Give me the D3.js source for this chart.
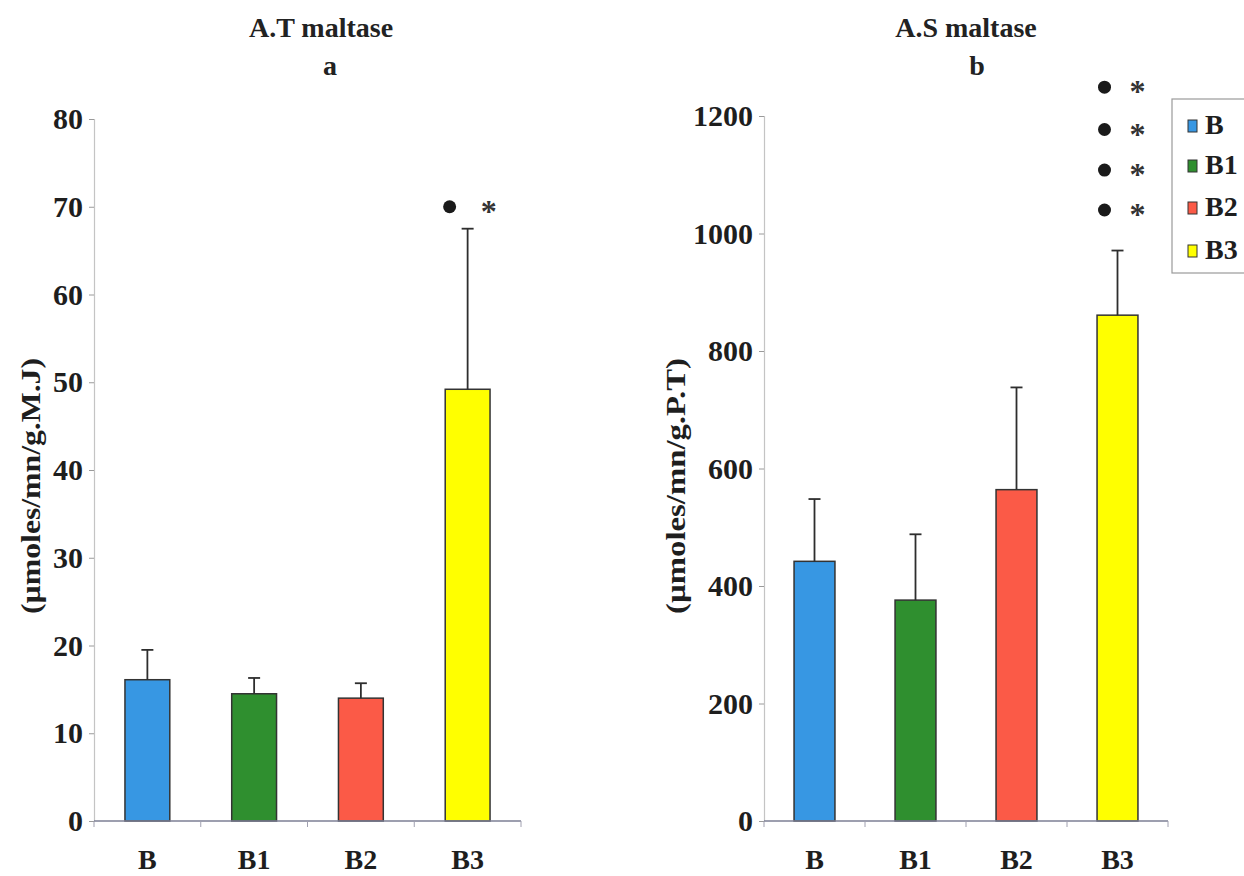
<!DOCTYPE html>
<html>
<head>
<meta charset="utf-8">
<script src="https://cdn.jsdelivr.net/npm/d3@7"></script>
<style>
  body { margin: 0; background: #fff; }
  svg { display: block; font-family: 'Liberation Serif', 'Times New Roman', serif; font-weight: bold; }
</style>
</head>
<body>
<svg id="chart" width="1244" height="876"></svg>
<script>
// values
const groups = ['B', 'B1', 'B2', 'B3'];
const groupColors = ['#3797e3', '#2f8f2f', '#fb5a47', '#ffff00'];

const atMeans = [16.1, 14.5, 14.0, 49.2];
const atErrors = [3.4, 1.8, 1.7, 18.3];
const atTicks = [0, 10, 20, 30, 40, 50, 60, 70, 80];
const atMarks = [70];

const asMeans = [442, 376, 564, 861];
const asErrors = [106, 112, 174, 110];
const asTicks = [0, 200, 400, 600, 800, 1000, 1200];
const asMarks = [1249, 1177, 1108, 1040];

const svg = d3.select('#chart');

function panel(opt) {
  const x = d3.scaleBand().domain(groups).range([opt.left, opt.right])
    .paddingInner(opt.pad).paddingOuter(opt.pad / 2);
  const y = d3.scaleLinear().domain([0, opt.max]).range([821, opt.top]);
  const g = svg.append('g');

  // titles
  g.append('text').attr('x', opt.titleX).attr('y', 37).attr('text-anchor', 'middle')
    .attr('font-size', 28).attr('fill', '#222').text(opt.title);
  g.append('text').attr('x', opt.letterX).attr('y', 75).attr('text-anchor', 'middle')
    .attr('font-size', 28).attr('fill', '#222').text(opt.letter);

  // y axis
  const yAxis = g.append('g').attr('transform', `translate(${opt.left},0)`)
    .call(d3.axisLeft(y).tickValues(opt.ticks).tickFormat(d3.format('d')).tickSize(5).tickPadding(6));
  yAxis.select('.domain').attr('stroke', '#c4c4c4').attr('stroke-width', 1.2);
  yAxis.selectAll('.tick line').attr('stroke', '#9a9a9a');
  yAxis.selectAll('.tick text').attr('font-size', 30).attr('fill', '#1e1e1e')
    .attr('font-family', "'Liberation Serif', serif").attr('font-weight', 'bold');

  // y label
  g.append('text')
    .attr('transform', `translate(${opt.labelX},486) rotate(-90)`)
    .attr('text-anchor', 'middle').attr('dominant-baseline', 'central')
    .attr('font-size', 27).attr('fill', '#1e1e1e')
    .attr('textLength', 256).attr('lengthAdjust', 'spacingAndGlyphs')
    .text(opt.yLabel);

  // bars
  g.selectAll('rect.bar').data(opt.means).join('rect')
    .attr('class', 'bar')
    .attr('x', (d, i) => x(groups[i]))
    .attr('y', (d) => y(d))
    .attr('width', x.bandwidth())
    .attr('height', (d) => y(0) - y(d))
    .attr('fill', (d, i) => groupColors[i])
    .attr('stroke', '#333').attr('stroke-width', 1.5);

  // error bars (upper half only)
  const err = g.append('g').attr('stroke', '#2e2e2e').attr('stroke-width', 1.8);
  opt.means.forEach((m, i) => {
    const cx = x(groups[i]) + x.bandwidth() / 2;
    err.append('line').attr('x1', cx).attr('x2', cx).attr('y1', y(m)).attr('y2', y(m + opt.errors[i]));
    err.append('line').attr('x1', cx - 6).attr('x2', cx + 6)
      .attr('y1', y(m + opt.errors[i])).attr('y2', y(m + opt.errors[i]));
  });

  // x axis
  g.append('line').attr('x1', opt.left).attr('x2', opt.right).attr('y1', y(0)).attr('y2', y(0))
    .attr('stroke', '#7d7f95').attr('stroke-width', 1.5);
  const bounds = groups.map((d) => x(d) - x.step() * opt.pad / 2).concat([opt.right]);
  g.selectAll('line.xt').data(bounds).join('line').attr('class', 'xt')
    .attr('x1', (d) => d).attr('x2', (d) => d).attr('y1', y(0)).attr('y2', y(0) + 6)
    .attr('stroke', '#a0a0b0').attr('stroke-width', 1);
  g.selectAll('text.cat').data(groups).join('text').attr('class', 'cat')
    .attr('x', (d) => x(d) + x.bandwidth() / 2).attr('y', 869)
    .attr('text-anchor', 'middle').attr('font-size', 28).attr('fill', '#1e1e1e')
    .text((d) => d);

  // significance marks above B3
  const b3 = x('B3') + x.bandwidth() / 2;
  opt.marks.forEach((v) => {
    g.append('circle').attr('cx', b3 + opt.dotDx).attr('cy', y(v)).attr('r', 6.5).attr('fill', '#1a1a1a');
    g.append('text').attr('x', b3 + opt.starDx).attr('y', y(v) + 15).attr('text-anchor', 'middle')
      .attr('font-size', 32).attr('fill', '#333').text('*');
  });
  return { x, y };
}

panel({
  left: 94, right: 521, top: 119, max: 80, pad: 0.58,
  means: atMeans, errors: atErrors, ticks: atTicks, marks: atMarks,
  title: 'A.T maltase', letter: 'a', titleX: 321, letterX: 330,
  yLabel: '(\u00b5moles/mn/g.M.J)', labelX: 31, dotDx: -18, starDx: 21
});

panel({
  left: 764, right: 1168, top: 116, max: 1200, pad: 0.595,
  means: asMeans, errors: asErrors, ticks: asTicks, marks: asMarks,
  title: 'A.S maltase', letter: 'b', titleX: 966, letterX: 977,
  yLabel: '(\u00b5moles/mn/g.P.T)', labelX: 676, dotDx: -13, starDx: 20
});

// legend
const legend = svg.append('g');
legend.append('rect').attr('x', 1172).attr('y', 99).attr('width', 90).attr('height', 174)
  .attr('fill', '#fff').attr('stroke', '#9a9a9a').attr('stroke-width', 1.2);
const legendY = [134, 174, 216, 259];
groups.forEach((name, i) => {
  legend.append('rect').attr('x', 1188).attr('y', legendY[i] - 14).attr('width', 9).attr('height', 12)
    .attr('fill', groupColors[i]).attr('stroke', '#333').attr('stroke-width', 1);
  legend.append('text').attr('x', 1205).attr('y', legendY[i]).attr('font-size', 28)
    .attr('fill', '#1e1e1e').text(name);
});
</script>
</body>
</html>
